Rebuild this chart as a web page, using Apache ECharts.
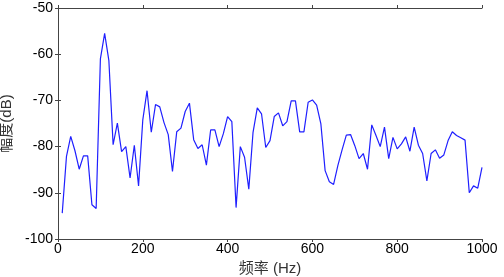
<!DOCTYPE html>
<html>
<head>
<meta charset="utf-8">
<script src="https://cdn.jsdelivr.net/npm/echarts@6/dist/echarts.min.js"></script>
<style>
  html, body { margin: 0; padding: 0; background: #fff; }
  #chart { width: 504px; height: 277px; }
</style>
</head>
<body>
<div id="chart"></div>
<script>
// 频率 (Hz)
const freqs = [
  10, 20, 30, 40, 50, 60, 70, 80, 90, 100,
  110, 120, 130, 140, 150, 160, 170, 180, 190, 200,
  210, 220, 230, 240, 250, 260, 270, 280, 290, 300,
  310, 320, 330, 340, 350, 360, 370, 380, 390, 400,
  410, 420, 430, 440, 450, 460, 470, 480, 490, 500,
  510, 520, 530, 540, 550, 560, 570, 580, 590, 600,
  610, 620, 630, 640, 650, 660, 670, 680, 690, 700,
  710, 720, 730, 740, 750, 760, 770, 780, 790, 800,
  810, 820, 830, 840, 850, 860, 870, 880, 890, 900,
  910, 920, 930, 940, 950, 960, 970, 980, 990, 1000
];
// 幅度 (dB)
const amps = [
  -94.4, -82.1, -77.8, -80.9, -84.9, -82.0, -82.0, -92.6, -93.4, -61.0,
  -55.5, -61.4, -79.6, -74.9, -81.1, -80.0, -86.8, -79.7, -88.5, -74.2,
  -67.9, -76.9, -70.9, -71.4, -74.8, -77.4, -85.4, -76.8, -76.0, -72.4,
  -70.6, -78.5, -80.4, -79.6, -84.0, -76.4, -76.4, -80.0, -77.2, -73.5,
  -74.6, -93.2, -80.0, -82.3, -89.2, -76.9, -71.6, -72.9, -80.2, -78.7,
  -73.5, -72.7, -75.5, -74.6, -70.1, -70.1, -76.8, -76.8, -70.4, -69.9,
  -71.0, -75.1, -85.2, -87.6, -88.2, -84.1, -80.7, -77.5, -77.4, -79.8,
  -82.6, -81.5, -84.9, -75.3, -77.6, -80.0, -75.8, -82.6, -78.0, -80.5,
  -79.4, -77.9, -81.0, -75.8, -79.7, -81.5, -87.4, -81.5, -80.7, -82.5,
  -81.8, -78.7, -76.8, -77.6, -78.1, -78.6, -90.0, -88.5, -89.0, -84.5
];

const lineData = freqs.map((f, i) => [f, amps[i]]);

const axisColor = "#444";
const fontFamily = "'Liberation Sans', Arial, 'Noto Sans CJK SC', sans-serif";

const chart = echarts.init(document.getElementById("chart"));

const frameAxis = {
  axisLine: { show: true, lineStyle: { color: axisColor, width: 1 } },
  axisTick: { show: true, inside: false, length: 3, lineStyle: { color: axisColor } },
  splitLine: { show: false }
};

const option = {
  animation: false,
  grid: { left: 58, right: 22, top: 8, bottom: 38, containLabel: false, outerBoundsMode: "none" },
  xAxis: [
    {
      type: "value", min: 0, max: 1000, interval: 200, position: "bottom",
      name: "频率 (Hz)", nameLocation: "middle", nameGap: 17,
      nameTextStyle: { color: "#333", fontSize: 15, fontFamily: fontFamily },
      axisLabel: { color: "#000", fontSize: 14, margin: 3, fontFamily: fontFamily,
        formatter: v => String(v) },
      ...frameAxis
    },
    {
      type: "value", min: 0, max: 1000, interval: 200, position: "top",
      axisLabel: { show: false },
      ...frameAxis
    }
  ],
  yAxis: [
    {
      type: "value", min: -100, max: -50, interval: 10, position: "left",
      name: "幅度(dB)", nameLocation: "middle", nameGap: 36, nameRotate: 90,
      nameTextStyle: { color: "#333", fontSize: 15, fontFamily: fontFamily },
      axisLabel: { color: "#000", fontSize: 14, margin: 5, fontFamily: fontFamily },
      ...frameAxis
    },
    {
      type: "value", min: -100, max: -50, interval: 10, position: "right",
      axisLabel: { show: false },
      ...frameAxis
    }
  ],
  series: [
    {
      type: "line",
      data: lineData,
      showSymbol: false,
      lineStyle: { color: "#1f1fff", width: 1.2 },
      itemStyle: { color: "#1f1fff" }
    }
  ]
};

chart.setOption(option);
</script>
</body>
</html>
